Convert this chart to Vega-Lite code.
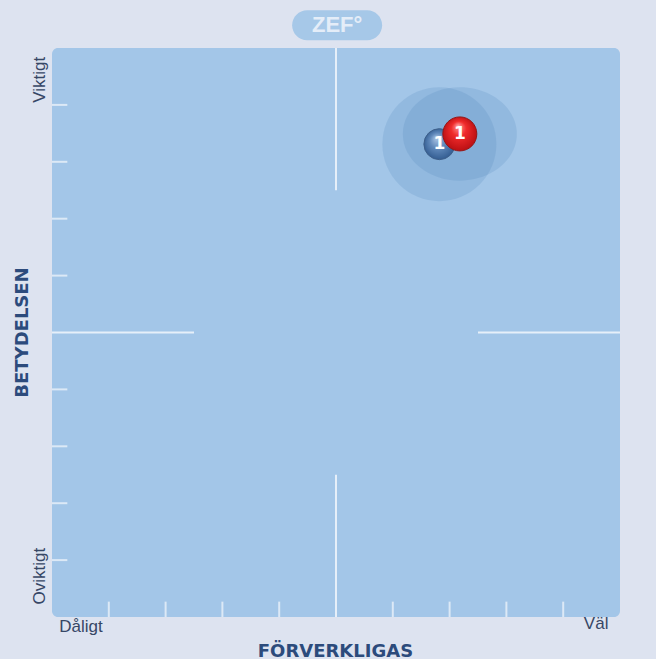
{
  "$schema": "https://vega.github.io/schema/vega-lite/v6.json",
  "width": 568,
  "height": 569,
  "autosize": {"type": "none"},
  "padding": {"left": 52, "top": 48, "right": 36, "bottom": 42},
  "background": "#dde3f0",
  "config": {
    "view": {"fill": "#a3c6e8", "stroke": null, "cornerRadius": 6}
  },
  "datasets": {
    "ticklines": [
      {"x": 1, "x2": 1, "y": 0, "y2": 0.27},
      {"x": 2, "x2": 2, "y": 0, "y2": 0.27},
      {"x": 3, "x2": 3, "y": 0, "y2": 0.27},
      {"x": 4, "x2": 4, "y": 0, "y2": 0.27},
      {"x": 6, "x2": 6, "y": 0, "y2": 0.27},
      {"x": 7, "x2": 7, "y": 0, "y2": 0.27},
      {"x": 8, "x2": 8, "y": 0, "y2": 0.27},
      {"x": 9, "x2": 9, "y": 0, "y2": 0.27},
      {"x": 0, "x2": 0.27, "y": 1, "y2": 1},
      {"x": 0, "x2": 0.27, "y": 2, "y2": 2},
      {"x": 0, "x2": 0.27, "y": 3, "y2": 3},
      {"x": 0, "x2": 0.27, "y": 4, "y2": 4},
      {"x": 0, "x2": 0.27, "y": 6, "y2": 6},
      {"x": 0, "x2": 0.27, "y": 7, "y2": 7},
      {"x": 0, "x2": 0.27, "y": 8, "y2": 8},
      {"x": 0, "x2": 0.27, "y": 9, "y2": 9}
    ],
    "cross": [
      {"x": 5, "x2": 5, "y": 7.5, "y2": 10},
      {"x": 5, "x2": 5, "y": 0, "y2": 2.5},
      {"x": 0, "x2": 2.5, "y": 5, "y2": 5},
      {"x": 7.5, "x2": 10, "y": 5, "y2": 5}
    ],
    "points": [
      {"series": "blue", "label": "1", "x": 6.82, "y": 8.31},
      {"series": "red", "label": "1", "x": 7.18, "y": 8.49}
    ],
    "vlabels": [
      {"text": "Viktigt", "x": -0.21, "y": 9.44},
      {"text": "Oviktigt", "x": -0.21, "y": 0.72}
    ],
    "hlabels": [
      {"text": "Dåligt", "x": 0.51, "y": -0.26},
      {"text": "Väl", "x": 9.58, "y": -0.21}
    ],
    "logo": [{"text": "ZEF°", "x": 5.02, "y": 10.4}]
  },
  "encoding": {
    "x": {
      "field": "x", "type": "quantitative",
      "scale": {"domain": [0, 10], "nice": false, "zero": false},
      "axis": {
        "title": "FÖRVERKLIGAS", "labels": false, "ticks": false, "domain": false, "grid": false,
        "titleFont": "DejaVu Sans", "titleFontWeight": "bold", "titleFontSize": 18,
        "titleColor": "#2c4b7c", "titleX": 283, "titleY": 39,
        "titleAlign": "center", "titleBaseline": "alphabetic"
      }
    },
    "y": {
      "field": "y", "type": "quantitative",
      "scale": {"domain": [0, 10], "nice": false, "zero": false},
      "axis": {
        "title": "BETYDELSEN", "labels": false, "ticks": false, "domain": false, "grid": false,
        "titleFont": "DejaVu Sans", "titleFontWeight": "bold", "titleFontSize": 18,
        "titleColor": "#2c4b7c", "titleX": -30, "titleY": 284, "titleAngle": 270,
        "titleAlign": "center", "titleBaseline": "middle"
      }
    }
  },
  "layer": [
    {
      "data": {"name": "ticklines"},
      "mark": {"type": "rule", "color": "#dce9f6", "strokeWidth": 2},
      "encoding": {"x2": {"field": "x2"}, "y2": {"field": "y2"}}
    },
    {
      "data": {"name": "cross"},
      "mark": {"type": "rule", "color": "#e6eff9", "strokeWidth": 2},
      "encoding": {"x2": {"field": "x2"}, "y2": {"field": "y2"}}
    },
    {
      "data": {"name": "points"},
      "transform": [{"filter": "datum.series === 'blue'"}],
      "mark": {"type": "point", "filled": true, "shape": "circle", "size": 12996, "color": "#4a7fb8", "opacity": 0.18}
    },
    {
      "data": {"name": "points"},
      "transform": [{"filter": "datum.series === 'red'"}],
      "mark": {"type": "point", "filled": true, "shape": "M -1 0 A 1 0.82 0 1 1 1 0 A 1 0.82 0 1 1 -1 0 Z", "size": 12996, "color": "#4a7fb8", "opacity": 0.18}
    },
    {
      "data": {"name": "points"},
      "transform": [{"filter": "datum.series === 'blue'"}],
      "mark": {
        "type": "point", "filled": true, "shape": "circle", "size": 961, "opacity": 1,
        "fill": {"gradient": "radial", "x1": 0.4, "y1": 0.3, "r1": 0, "x2": 0.5, "y2": 0.5, "r2": 0.55,
          "stops": [{"offset": 0, "color": "#aac4e4"}, {"offset": 0.45, "color": "#6089bb"}, {"offset": 1, "color": "#2d578c"}]},
        "stroke": "#3d5f8a", "strokeWidth": 1
      }
    },
    {
      "data": {"name": "points"},
      "transform": [{"filter": "datum.series === 'blue'"}],
      "mark": {"type": "text", "color": "#ffffff", "font": "DejaVu Sans", "fontWeight": "bold", "fontSize": 17, "align": "center", "baseline": "middle"},
      "encoding": {"text": {"field": "label"}}
    },
    {
      "data": {"name": "points"},
      "transform": [{"filter": "datum.series === 'red'"}],
      "mark": {
        "type": "point", "filled": true, "shape": "circle", "size": 1156, "opacity": 1,
        "fill": {"gradient": "radial", "x1": 0.45, "y1": 0.25, "r1": 0, "x2": 0.5, "y2": 0.5, "r2": 0.55,
          "stops": [{"offset": 0, "color": "#ff9a9a"}, {"offset": 0.4, "color": "#f02b2b"}, {"offset": 1, "color": "#b50c10"}]},
        "stroke": "#961515", "strokeWidth": 1
      }
    },
    {
      "data": {"name": "points"},
      "transform": [{"filter": "datum.series === 'red'"}],
      "mark": {"type": "text", "color": "#ffffff", "font": "DejaVu Sans", "fontWeight": "bold", "fontSize": 17, "align": "center", "baseline": "middle"},
      "encoding": {"text": {"field": "label"}}
    },
    {
      "data": {"name": "vlabels"},
      "mark": {"type": "text", "angle": 270, "color": "#364766", "font": "Liberation Sans", "fontSize": 17, "align": "center", "baseline": "middle"},
      "encoding": {"text": {"field": "text"}}
    },
    {
      "data": {"name": "hlabels"},
      "mark": {"type": "text", "color": "#364766", "font": "Liberation Sans", "fontSize": 17, "align": "center", "baseline": "alphabetic"},
      "encoding": {"text": {"field": "text"}}
    },
    {
      "data": {"name": "logo"},
      "mark": {"type": "point", "filled": true, "opacity": 1, "color": "#a6c8e8", "size": 8100,
        "shape": "M -0.667 -0.333 L 0.667 -0.333 A 0.333 0.333 0 0 1 0.667 0.333 L -0.667 0.333 A 0.333 0.333 0 0 1 -0.667 -0.333 Z"}
    },
    {
      "data": {"name": "logo"},
      "mark": {"type": "text", "color": "#e4edf8", "font": "Liberation Sans", "fontWeight": "bold", "fontSize": 22, "align": "center", "baseline": "middle"},
      "encoding": {"text": {"field": "text"}}
    }
  ]
}
